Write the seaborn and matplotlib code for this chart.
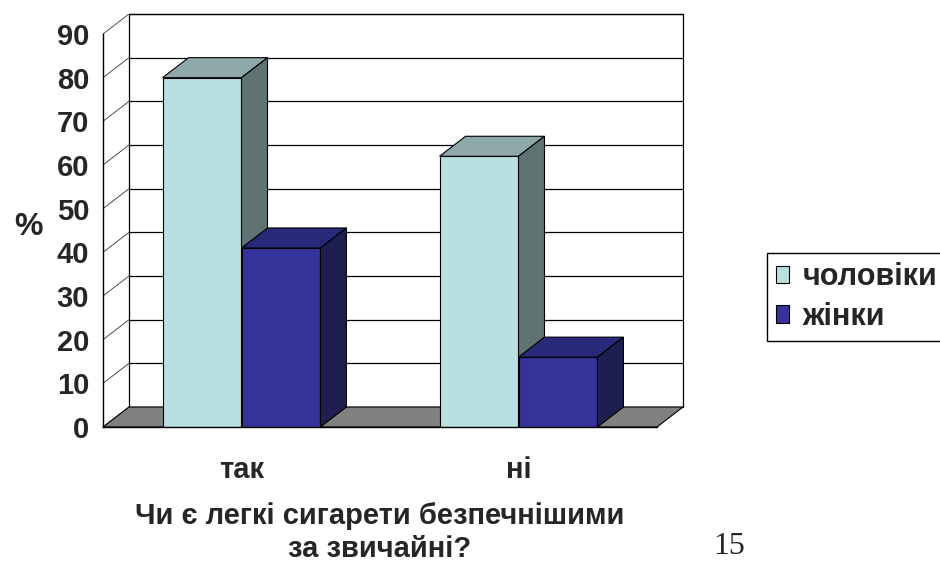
import matplotlib.pyplot as plt
import pandas as pd
import seaborn as sns
from matplotlib.patches import Patch, Polygon

categories = ["так", "ні"]
groups = ["чоловіки", "жінки"]
men_values = [80, 62]
women_values = [41, 16]
y_ticks = list(range(0, 100, 10))

front_colors = {"чоловіки": "#B9DFE3", "жінки": "#333399"}
top_colors = {"чоловіки": "#8FA8AA", "жінки": "#29297A"}
side_colors = {"чоловіки": "#5F7373", "жінки": "#1E1E50"}

# zsuv "glybyny" psevdo-3D u odynytsiakh danykh
DX = 26 / 277
DY = 20 / 4.367

df = pd.DataFrame({
    "відповідь": categories * 2,
    "стать": [groups[0]] * len(categories) + [groups[1]] * len(categories),
    "відсоток": men_values + women_values,
})

sns.set_style("white")
plt.rcParams["font.family"] = ["Liberation Sans", "DejaVu Sans"]

fig = plt.figure(figsize=(9.4, 5.62), dpi=100)
ax = fig.add_axes([103 / 940, 135 / 562, 554 / 940, 393 / 562])

sns.barplot(
    data=df, x="відповідь", y="відсоток", hue="стать",
    palette=front_colors, saturation=1, width=0.57,
    edgecolor="black", linewidth=0.8, legend=False, ax=ax,
)
ax.set_xlim(-0.5, 1.5)
ax.set_ylim(0, 90)
x0, x1 = ax.get_xlim()

# zadnia stinka, pidloga, sitka
wall = Polygon([(x0 + DX, DY), (x1 + DX, DY), (x1 + DX, 90 + DY), (x0 + DX, 90 + DY)],
               closed=True, fc="white", ec="black", lw=0.9, zorder=0.2, clip_on=False)
ax.add_patch(wall)
for v in y_ticks[1:]:
    ax.plot([x0 + DX, x1 + DX], [v + DY, v + DY], color="black", lw=0.9, zorder=0.3, clip_on=False)
for v in y_ticks:
    ax.plot([x0, x0 + DX], [v, v + DY], color="#333333", lw=0.6, zorder=0.3, clip_on=False)
floor = Polygon([(x0, 0), (x1, 0), (x1 + DX, DY), (x0 + DX, DY)],
                closed=True, fc="#808080", ec="black", lw=0.8, zorder=0.5, clip_on=False)
ax.add_patch(floor)

for container, group in zip(ax.containers, groups):
    z = 2 if group == groups[0] else 3
    for bar in container:
        bar.set_zorder(z)
        bx, bw, bh = bar.get_x(), bar.get_width(), bar.get_height()
        top = Polygon([(bx, bh), (bx + bw, bh), (bx + bw + DX, bh + DY), (bx + DX, bh + DY)],
                      closed=True, fc=top_colors[group], ec="black", lw=0.8, zorder=z, clip_on=False)
        side = Polygon([(bx + bw, 0), (bx + bw + DX, DY), (bx + bw + DX, bh + DY), (bx + bw, bh)],
                       closed=True, fc=side_colors[group], ec="black", lw=0.8, zorder=z, clip_on=False)
        ax.add_patch(top)
        ax.add_patch(side)

for name in ["top", "right"]:
    ax.spines[name].set_visible(False)
for name in ["left", "bottom"]:
    ax.spines[name].set_color("black")
    ax.spines[name].set_linewidth(1.0)
    ax.spines[name].set_zorder(4)

ax.set_yticks(y_ticks)
ax.set_yticklabels([str(t) for t in y_ticks], fontsize=21, fontweight="bold")
ax.tick_params(axis="y", direction="out", length=7, width=1, color="black", pad=3)

ax.set_xticks([0, 1])
ax.set_xticklabels(categories, fontsize=21, fontweight="bold")
ax.set_xticks([-0.5, 0.5, 1.5], minor=True)
ax.tick_params(axis="x", which="major", length=0, pad=21)
ax.tick_params(axis="x", which="minor", direction="out", length=7, width=1, color="black")

ax.set_ylabel("%", rotation=0, fontsize=23, fontweight="bold", ha="center", va="center")
ax.yaxis.set_label_coords(-0.135, 0.51)
ax.set_xlabel("Чи є легкі сигарети безпечнішими\nза звичайні?", fontsize=21,
              fontweight="bold", linespacing=1.22, va="top")
ax.xaxis.set_label_coords(0.5, -0.19)

fig.text(729 / 940, 1 - 546 / 562, "15", fontsize=23, family="Liberation Serif",
         ha="center", va="center")

handles = [Patch(facecolor=front_colors[g], edgecolor="black", linewidth=0.8, label=g) for g in groups]
leg = fig.legend(
    handles=handles, loc="upper left", bbox_to_anchor=(767 / 940, 1 - 253 / 562),
    frameon=True, fancybox=False, edgecolor="black", framealpha=1,
    prop={"size": 22, "weight": "bold"}, handlelength=0.42, handleheight=0.5,
    handletextpad=0.45, borderpad=0.3, labelspacing=0.32, borderaxespad=0,
)
leg.get_frame().set_linewidth(1.0)

fig.savefig("out.png", dpi=100)
